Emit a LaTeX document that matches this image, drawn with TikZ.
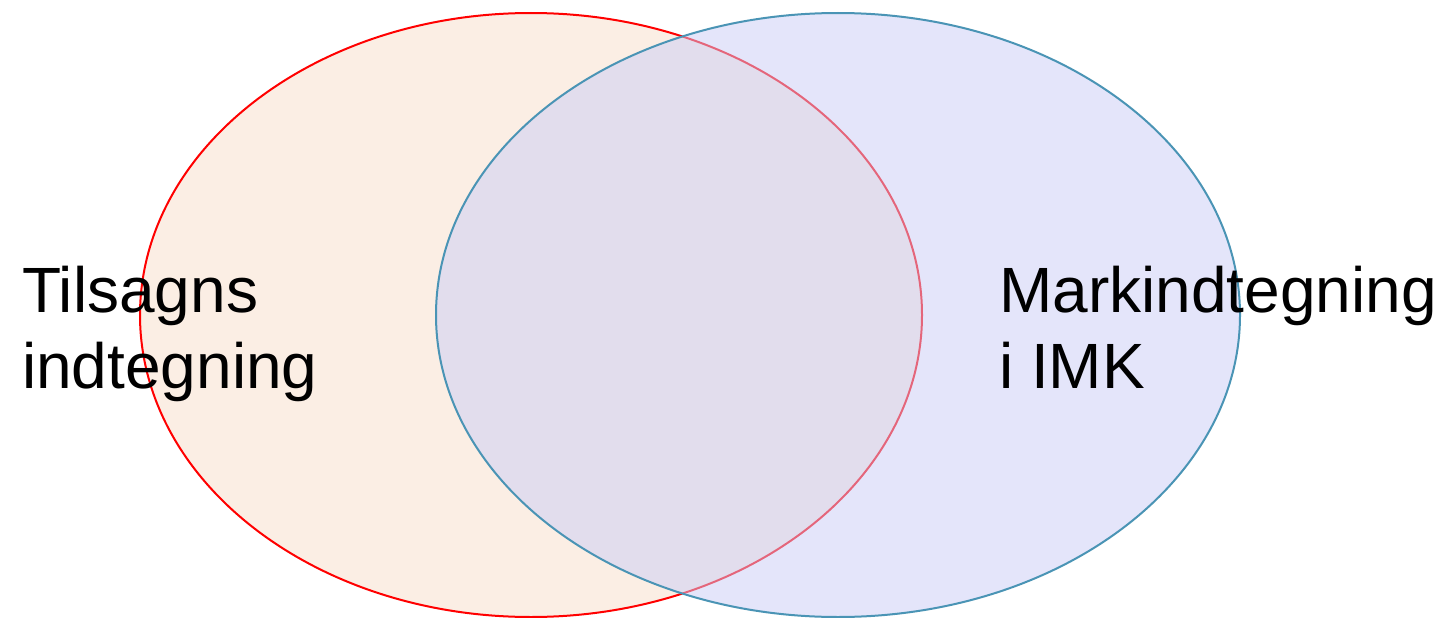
\documentclass[tikz,border=0pt]{standalone}
\usepackage{fontspec}
\usetikzlibrary{shapes.geometric}
\setmainfont{Liberation Sans}
\definecolor{peach}{RGB}{251,238,228}
\definecolor{lavbase}{RGB}{203,205,247}
\definecolor{tealline}{RGB}{74,148,181}
\tikzset{
  lbl/.style={anchor=base west, align=left, font=\fontsize{64}{76}\selectfont, inner sep=0pt},
  venn/.style={ellipse, inner sep=0pt, line width=2pt},
}
\begin{document}
\begin{tikzpicture}[x=1pt,y=-1pt]
\useasboundingbox (0,0) rectangle (1443,618);
\fill[white] (0,0) rectangle (1443,618);
\begin{scope}
\clip (0,0) rectangle (1443,618);
\node[venn, draw=red, fill=peach, minimum width=782pt, minimum height=604pt] (L) at (531,315) {};
\node[venn, draw=tealline, fill=lavbase, fill opacity=0.5, minimum width=804pt, minimum height=604pt] (R) at (838,315) {};
\end{scope}
\node[lbl] (t1) at (22,388) {Tilsagns\\indtegning};
\node[lbl] (t2) at (999,388) {Markindtegning\\i IMK};
\end{tikzpicture}
\end{document}
